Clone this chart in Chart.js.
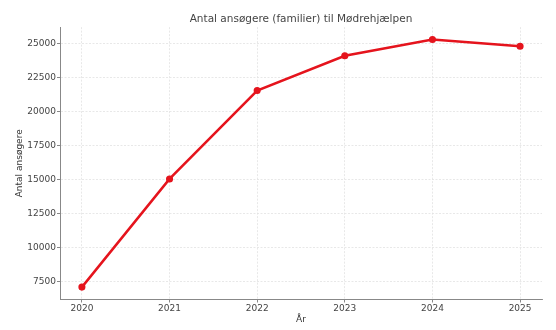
<!DOCTYPE html>
<html>
<head>
<meta charset="utf-8">
<script src="https://cdn.jsdelivr.net/npm/chart.js@4"></script>
<style>
    html, body { margin: 0; padding: 0; background: #fff; }
    #wrap { width: 556px; height: 330px; }
</style>
</head>
<body>
<div id="wrap"><canvas id="myChart"></canvas></div>
<script>
var years = [2020, 2021, 2022, 2023, 2024, 2025];
var applicants = [7100, 15050, 21550, 24100, 25300, 24800];
var yTicks = [7500, 10000, 12500, 15000, 17500, 20000, 22500, 25000];

var points = years.map(function (y, i) { return { x: y, y: applicants[i] }; });

const ctx = document.getElementById('myChart').getContext('2d');
const myChart = new Chart(ctx, {
    type: 'line',
    data: {
        datasets: [{
            label: 'Antal ansøgere',
            data: points,
            borderColor: '#e5141d',
            backgroundColor: '#e5141d',
            borderWidth: 2.5,
            pointRadius: 2.3,
            pointHoverRadius: 2.3,
            tension: 0
        }]
    },
    options: {
        maintainAspectRatio: false,
        responsive: true,
        animation: false,
        layout: { padding: { left: 0, right: 14, top: 0, bottom: 0 } },
        plugins: {
            legend: { display: false },
            tooltip: { enabled: false },
            title: {
                display: true,
                fullSize: false,
                text: 'Antal ansøgere (familier) til Mødrehjælpen',
                color: '#444',
                font: { family: 'DejaVu Sans', size: 10.5, weight: 'normal' },
                padding: { top: 12.5, bottom: 2 }
            }
        },
        scales: {
            x: {
                type: 'linear',
                min: 2019.75,
                max: 2025.25,
                afterBuildTicks: function (scale) {
                    scale.ticks = years.map(function (v) { return { value: v }; });
                },
                afterFit: function (scale) { scale.height = 30.5; },
                ticks: {
                    color: '#444',
                    font: { family: 'DejaVu Sans', size: 9 },
                    padding: 1,
                    callback: function (v) { return String(v); }
                },
                grid: { color: '#e2e2e2', lineWidth: 0.8, drawTicks: true, tickLength: 3, tickColor: '#888', tickWidth: 1 },
                border: { color: '#888', width: 1, dash: [2, 1.5] },
                title: {
                    display: true,
                    text: 'År',
                    color: '#333',
                    font: { family: 'DejaVu Sans', size: 9 },
                    padding: { top: 0, bottom: 5 }
                }
            },
            y: {
                min: 6190,
                max: 26210,
                afterBuildTicks: function (scale) {
                    scale.ticks = yTicks.map(function (v) { return { value: v }; });
                },
                afterFit: function (scale) { scale.width = 60; },
                ticks: {
                    color: '#444',
                    font: { family: 'DejaVu Sans', size: 9 },
                    padding: 1,
                    callback: function (v) { return String(v); }
                },
                grid: { color: '#e2e2e2', lineWidth: 0.8, drawTicks: true, tickLength: 3, tickColor: '#888', tickWidth: 1 },
                border: { color: '#888', width: 1, dash: [2, 1.5] },
                title: {
                    display: true,
                    text: 'Antal ansøgere',
                    color: '#333',
                    font: { family: 'DejaVu Sans', size: 9 },
                    padding: { top: 14.6, bottom: 0 }
                }
            }
        }
    }
});
</script>
</body>
</html>
